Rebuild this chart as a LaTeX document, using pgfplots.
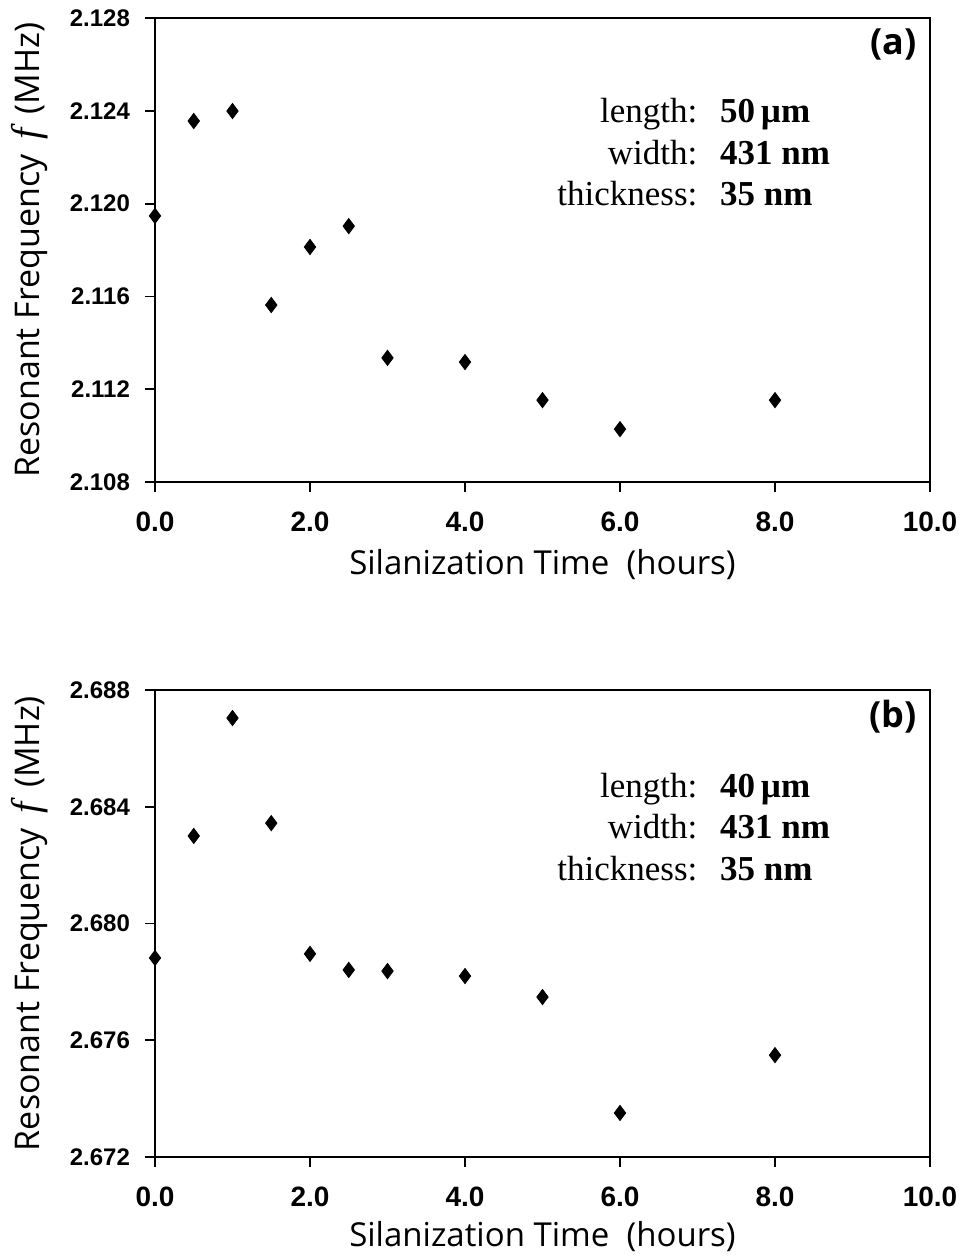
\documentclass[border=0pt]{standalone}
\usepackage{fontspec}
\setmainfont{Liberation Serif}
\newfontfamily\tickfont{Liberation Sans}
\newfontfamily\labelfont{Open Sans}
\usepackage{pgfplots}
\pgfplotsset{compat=1.18}

% 1 px of the reference = 0.5pt
\pgfplotsset{
  panel/.style={
    scale only axis, width=387.5pt,
    xmin=0, xmax=10, xtick={0,2,4,6,8,10},
    xtick pos=bottom, ytick pos=left, tick align=outside,
    major tick length=5pt,
    axis line style={line width=1.1pt},
    every tick/.style={black, line width=0.9pt},
    xticklabel style={font=\fontsize{14}{15}\tickfont\bfseries, yshift=-6.5pt},
    yticklabel style={font=\fontsize{12}{13}\tickfont\bfseries, xshift=-4pt},
    /pgf/number format/assume math mode=true,
    /pgf/number format/fixed, /pgf/number format/fixed zerofill,
    xticklabel={\pgfmathprintnumber[precision=1]{\tick}},
    yticklabel={\pgfmathprintnumber[precision=3]{\tick}},
    xlabel={\labelfont Silanization Time\ \ (hours)},
    ylabel={\labelfont Resonant Frequency\, {\rmfamily\itshape\fontsize{20}{20}\selectfont f}\, (MHz)},
    xlabel style={font=\fontsize{16.5}{17}\selectfont},
    ylabel style={font=\fontsize{17}{18}\selectfont,
      at={(axis description cs:-0.162,0.5)}, anchor=center},
    clip=false,
  },
  pts/.style={only marks, mark=diamond*, mark size=3.8pt, black},
}

\newcommand{\info}[5]{%
  \node[anchor=base east, font=\fontsize{17.5}{18}\selectfont] at (rel axis cs:0.709,#1) {length:};
  \node[anchor=base west, font=\fontsize{17.5}{18}\selectfont\bfseries] at (rel axis cs:0.720,#1) {#4\,\textmu m};
  \node[anchor=base east, font=\fontsize{17.5}{18}\selectfont] at (rel axis cs:0.709,#2) {width:};
  \node[anchor=base west, font=\fontsize{17.5}{18}\selectfont\bfseries] at (rel axis cs:0.720,#2) {431 nm};
  \node[anchor=base east, font=\fontsize{17.5}{18}\selectfont] at (rel axis cs:0.709,#3) {thickness:};
  \node[anchor=base west, font=\fontsize{17.5}{18}\selectfont\bfseries] at (rel axis cs:0.720,#3) {35 nm};
  \node[anchor=east, inner sep=0pt, font=\fontsize{18}{19}\labelfont\bfseries] at (rel axis cs:0.983,0.942) {#5};
}

\begin{document}
\begin{tikzpicture}
\useasboundingbox (-77.5pt,-388.5pt) rectangle (402.5pt,241pt);

% panel (a)
\begin{axis}[panel, at={(0,0)}, anchor=south west, height=232pt,
    ymin=2.108, ymax=2.128, ytick={2.108,2.112,...,2.128},
    xlabel style={at={(axis description cs:0.5,-0.179)}, anchor=center}]
  \addplot[pts] coordinates {
    (0,2.11947) (0.5,2.12356) (1,2.12399) (1.5,2.11563) (2,2.11813)
    (2.5,2.11903) (3,2.11335) (4,2.11317) (5,2.11153) (6,2.11028) (8,2.11153)
  };
  \info{0.775}{0.685}{0.595}{50}{(a)}
\end{axis}

% panel (b)
\begin{axis}[panel, at={(0,-337.5pt)}, anchor=south west, height=233.5pt,
    ymin=2.672, ymax=2.688, ytick={2.672,2.676,...,2.688},
    xlabel style={at={(axis description cs:0.5,-0.171)}, anchor=center}]
  \addplot[pts] coordinates {
    (0,2.67882) (0.5,2.68300) (1,2.68704) (1.5,2.68344) (2,2.67896)
    (2.5,2.67841) (3,2.67837) (4,2.67820) (5,2.67748) (6,2.67351) (8,2.67549)
  };
  \info{0.770}{0.681}{0.593}{40}{(b)}
\end{axis}
\end{tikzpicture}
\end{document}
